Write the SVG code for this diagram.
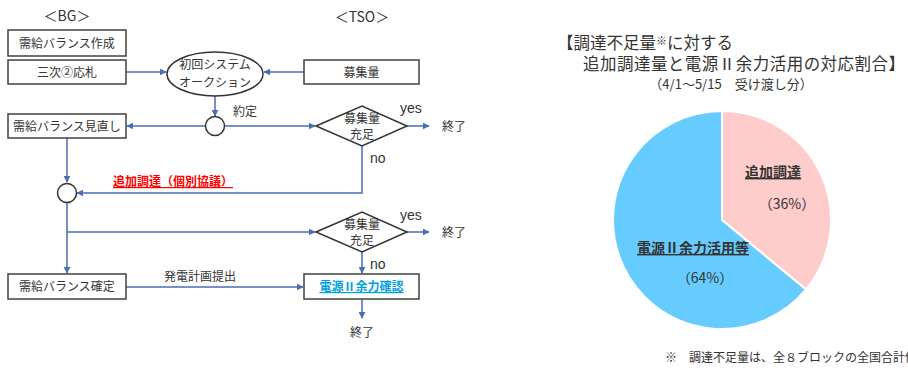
<svg xmlns="http://www.w3.org/2000/svg" width="908" height="368" viewBox="0 0 908 368">
<style>
text{font-family:"Noto Sans CJK JP","Noto Sans",sans-serif;fill:#333;}
.t{font-size:12px;text-anchor:middle;}
.box{fill:#fff;stroke:#404040;stroke-width:1.5;}
.c{fill:none;stroke:#4a6db5;stroke-width:1.5;}
.lbl{font-size:14px;font-family:"Liberation Sans","Noto Sans",sans-serif;}
</style>
<defs>
<marker id="ah" viewBox="0 0 10 10" refX="9" refY="5" markerWidth="7" markerHeight="7" orient="auto" markerUnits="userSpaceOnUse">
<path d="M0,0 L10,5 L0,10 z" fill="#4a6db5"/>
</marker>
</defs>
<rect width="908" height="368" fill="#fff"/>

<text x="67" y="21" style="font-size:14px;text-anchor:middle">＜BG＞</text>
<text x="362" y="22" style="font-size:14px;text-anchor:middle">＜TSO＞</text>

<g id="connectors">
<path class="c" d="M126,72 H166" marker-end="url(#ah)"/>
<path class="c" d="M304,72 H264" marker-end="url(#ah)"/>
<path class="c" d="M215,96 V116" marker-end="url(#ah)"/>
<path class="c" d="M205.5,126 H127" marker-end="url(#ah)"/>
<path class="c" d="M224.5,126 H315" marker-end="url(#ah)"/>
<path class="c" d="M407,126 H429" marker-end="url(#ah)"/>
<path class="c" d="M362,146 V193 H77" marker-end="url(#ah)"/>
<path class="c" d="M67,138 V182" marker-end="url(#ah)"/>
<path class="c" d="M67,202 V273" marker-end="url(#ah)"/>
<path class="c" d="M67,232 H315" marker-end="url(#ah)"/>
<path class="c" d="M407,232 H429" marker-end="url(#ah)"/>
<path class="c" d="M362,252 V273" marker-end="url(#ah)"/>
<path class="c" d="M126,287 H303" marker-end="url(#ah)"/>
<path class="c" d="M362,299 V318" marker-end="url(#ah)"/>
</g>

<g id="n-sakusei"><rect class="box" x="8" y="30" width="118" height="26"/><text class="t" x="67" y="47.5">需給バランス作成</text></g>
<g id="n-ousatsu"><rect class="box" x="8" y="60" width="118" height="24"/><text class="t" x="67" y="76.5">三次②応札</text></g>
<g id="n-auction"><ellipse cx="215" cy="74" rx="48" ry="22" fill="#fff" stroke="#333" stroke-width="1.5"/><text class="t" x="215" y="69">初回システム</text><text class="t" x="215" y="87">オークション</text></g>
<g id="n-boshu"><rect class="box" x="304" y="60" width="115" height="24"/><text class="t" x="361.5" y="76.5">募集量</text></g>
<g id="n-circle1"><circle cx="215" cy="126" r="9.5" fill="#fff" stroke="#333" stroke-width="1.5"/></g>
<text x="233" y="116" style="font-size:12px">約定</text>
<g id="n-minaoshi"><rect class="box" x="8" y="114" width="118" height="24"/><text class="t" x="67" y="130.5">需給バランス見直し</text></g>
<g id="n-dia1"><path d="M316,126 L362,106 L407,126 L362,146 Z" fill="#fff" stroke="#333" stroke-width="1.5"/><text class="t" x="362" y="123">募集量</text><text class="t" x="362" y="139">充足</text></g>
<text class="lbl" x="400" y="113">yes</text>
<text x="442" y="131" style="font-size:12px">終了</text>
<text class="lbl" x="370" y="163">no</text>
<text x="113" y="186" style="font-size:12px;font-weight:bold;fill:#ff0000;text-decoration:underline">追加調達（個別協議）</text>
<g id="n-circle2"><circle cx="67" cy="193" r="9.5" fill="#fff" stroke="#333" stroke-width="1.5"/></g>
<g id="n-dia2"><path d="M316,232 L362,212 L407,232 L362,252 Z" fill="#fff" stroke="#333" stroke-width="1.5"/><text class="t" x="362" y="229">募集量</text><text class="t" x="362" y="245">充足</text></g>
<text class="lbl" x="400" y="220">yes</text>
<text x="442" y="237" style="font-size:12px">終了</text>
<text class="lbl" x="370" y="269">no</text>
<g id="n-kakutei"><rect class="box" x="8" y="274" width="118" height="25"/><text class="t" x="67" y="291">需給バランス確定</text></g>
<text x="200" y="281" style="font-size:12px;text-anchor:middle">発電計画提出</text>
<g id="n-yoryoku"><rect class="box" x="304" y="274" width="115" height="25"/><text class="t" x="361.5" y="291" style="font-weight:bold;fill:#00a0e0;text-decoration:underline">電源Ⅱ余力確認</text></g>
<text x="362" y="337" style="font-size:12px;text-anchor:middle">終了</text>

<g id="chart">
<text x="557" y="49" style="font-size:16.5px">【調達不足量<tspan style="font-size:11px" dy="-4">※</tspan><tspan dy="4">に対する</tspan></text>
<text x="583" y="70" style="font-size:16.5px" textLength="322" lengthAdjust="spacing">追加調達量と電源Ⅱ余力活用の対応割合】</text>
<text x="731" y="89" style="font-size:13px;text-anchor:middle">（4/1～5/15　受け渡し分）</text>
<path d="M722,220 L722,111 A109,109 0 0 1 806,289.5 Z" fill="#ffcccc" stroke="#fff" stroke-width="2"/>
<path d="M722,220 L806,289.5 A109,109 0 1 1 722,111 Z" fill="#66ccff" stroke="#fff" stroke-width="2"/>
<text x="773" y="177" style="font-size:14px;font-weight:bold;text-anchor:middle;text-decoration:underline">追加調達</text>
<text x="787" y="209" style="font-size:14px;text-anchor:middle">（36%）</text>
<text x="693" y="253" style="font-size:14px;font-weight:bold;text-anchor:middle;text-decoration:underline">電源Ⅱ余力活用等</text>
<text x="705" y="283" style="font-size:14px;text-anchor:middle">（64%）</text>
<text x="665" y="362" style="font-size:12px">※　調達不足量は、全８ブロックの全国合計値</text>
</g>
</svg>
